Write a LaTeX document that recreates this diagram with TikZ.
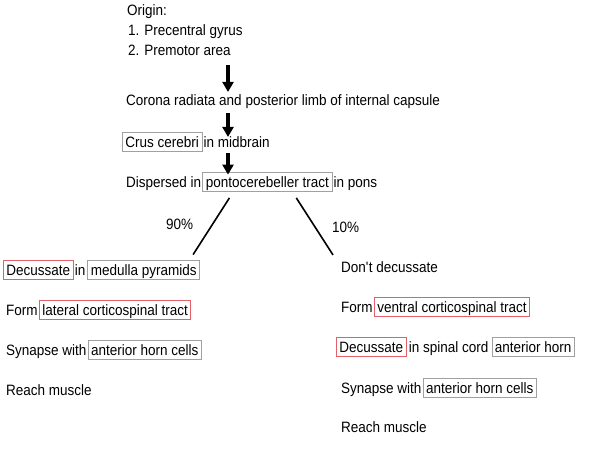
\documentclass[tikz,border=0pt]{standalone}
\usepackage{fontspec}
\setmainfont{Liberation Sans}[FakeStretch=0.9]
\usetikzlibrary{positioning,arrows.meta}
\definecolor{boxred}{RGB}{228,96,104}
\definecolor{boxgray}{RGB}{160,160,160}
\tikzset{
    txt/.style={inner sep=0pt, anchor=base west, font=\fontsize{15}{18}\selectfont},
    redbox/.style={txt, draw=boxred, line width=0.8pt, inner xsep=3pt, inner ysep=2pt, text height=13pt, text depth=2.5pt},
    graybox/.style={redbox, draw=boxgray},
    bigarrow/.style={line width=4pt, -{Triangle[width=11pt, length=10pt]}},
    fork/.style={line width=1.6pt},
}
\begin{document}
\begin{tikzpicture}[x=1pt, y=-1pt]
    \useasboundingbox (0, 0) rectangle (596, 449);
    \coordinate (axis) at (228, 0);
    \node[txt] (origin) at (127, 16) {Origin:};
    \node[txt] (pre1) at (128, 36) {1. Precentral gyrus};
    \node[txt] (pre2) at (128, 56) {2. Premotor area};
    \node[txt] (corona) at (126, 106) {Corona radiata and posterior limb of internal capsule};
    \node[graybox] (crus) at (122, 147) {Crus cerebri};
    \node[txt, base right=1pt of crus] (midbrain) {in midbrain};
    \node[txt] (disp) at (126, 187) {Dispersed in};
    \node[graybox, base right=1pt of disp] (pct) {pontocerebeller tract};
    \node[txt, base right=1pt of pct] (pons) {in pons};
    \draw[bigarrow] ([yshift=-9pt]pre2.south -| axis) to ([yshift=3pt]corona.north -| axis);
    \draw[bigarrow] ([yshift=-4pt]corona.south -| axis) to ([yshift=-1pt]midbrain.north -| axis);
    \draw[bigarrow] ([yshift=-6pt]midbrain.south -| axis) to ([yshift=-3pt]pct.north -| axis);
    \node[txt] (p90) at (166, 229) {90\%};
    \node[txt] (p10) at (332, 232) {10\%};
    \node[redbox] (ldec) at (3, 275) {Decussate};
    \node[txt, base right=1pt of ldec] (lin) {in};
    \node[graybox, base right=2pt of lin] (lmed) {medulla pyramids};
    \node[txt] (lform) at (6, 315) {Form};
    \node[redbox, base right=1pt of lform] (llat) {lateral corticospinal tract};
    \node[txt] (lsyn) at (6, 355) {Synapse with};
    \node[graybox, base right=1pt of lsyn] (lahc) {anterior horn cells};
    \node[txt] (lreach) at (6, 395) {Reach muscle};
    \node[txt] (rdont) at (341, 272) {Don\textquotesingle t decussate};
    \node[txt] (rform) at (341, 312) {Form};
    \node[redbox, base right=1pt of rform] (rvent) {ventral corticospinal tract};
    \node[redbox] (rdec) at (336, 352) {Decussate};
    \node[txt, base right=2pt of rdec] (rspin) {in spinal cord};
    \node[graybox, base right=3pt of rspin] (rhorn) {anterior horn};
    \node[txt] (rsyn) at (341, 393) {Synapse with};
    \node[graybox, base right=1pt of rsyn] (rahc) {anterior horn cells};
    \node[txt] (rreach) at (341, 432) {Reach muscle};
    \draw[fork] ([shift={(27, 6)}]pct.south west) to ([shift={(-7, -5)}]lmed.north east);
    \draw[fork] ([shift={(-36, 6)}]pct.south east) to ([shift={(-8, -6)}]rdont.north west);
\end{tikzpicture}
\end{document}
